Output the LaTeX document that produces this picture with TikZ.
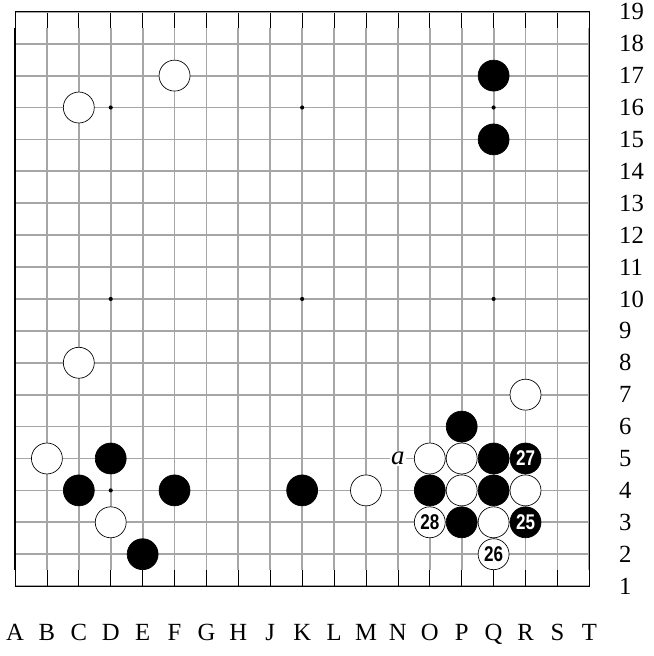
\documentclass[tikz,border=0pt]{standalone}
\usepackage{fontspec}
\setmainfont{Liberation Serif}
\newfontfamily\numfont[FakeStretch=0.8]{Liberation Sans}

\begin{document}
\begin{tikzpicture}[x=1cm,y=1cm,
grid/.style={line width=1.6pt,draw=black!35},edge/.style={line width=.6pt},
bstone/.style={circle,draw,line width=.6pt,fill=black,minimum size=.97cm,inner sep=0pt,text=white,
  font=\numfont\bfseries\fontsize{19}{19}\selectfont},
wstone/.style={bstone,fill=white,text=black},
star/.style={circle,fill,inner sep=0pt,minimum size=1.3mm},
lbl/.style={font=\fontsize{22}{22}\selectfont,inner sep=0pt}]
\useasboundingbox (-0.47,-2.19) rectangle (20.0,18.37);
% board
\foreach \i in {0,...,18}{
  \draw[grid](\i,0.5)--(\i,17.5);\draw[edge](\i,0)--(\i,0.5);\draw[edge](\i,17.5)--(\i,18);
  \draw[grid](0,\i)--(18,\i);}
\draw[line width=.8pt](0,0) rectangle (18,18);
\draw[line width=1.5pt](0,.5)--(0,17.5);
\foreach \x in {3,9,15}\foreach \y in {3,9,15}\node[star](s\x\y) at (\x,\y){};
% coordinates
\foreach \c [count=\i from 0] in {A,B,C,D,E,F,G,H,J,K,L,M,N,O,P,Q,R,S,T}
  \node[lbl,anchor=base](col\c) at (\i,-1.7){\c};
\foreach \r in {1,...,19}\node[lbl,anchor=west](row\r) at (18.93,\r-1){\r};
% stones
\foreach \p/\x/\y in {F17/5/16,C16/2/15,C8/2/7,R7/16/6,B5/1/4,M4/11/3,D3/3/2,O5/13/4,P5/14/4,P4/14/3,R4/16/3,Q3/15/2}
  \node[wstone](\p) at (\x,\y){};
\foreach \p/\x/\y in {Q17/15/16,Q15/15/14,P6/14/5,D5/3/4,C4/2/3,F4/5/3,K4/9/3,E2/4/1,Q5/15/4,O4/13/3,Q4/15/3,P3/14/2}
  \node[bstone](\p) at (\x,\y){};
\node[bstone](R5) at (16,4){27};
\node[bstone](R3) at (16,2){25};
\node[wstone](Q2) at (15,1){26};
\node[wstone](O3) at (13,2){28};
\node[fill=white,inner sep=1pt,font=\fontsize{24}{24}\selectfont\itshape](N5) at (12,4){a};
\end{tikzpicture}
\end{document}
